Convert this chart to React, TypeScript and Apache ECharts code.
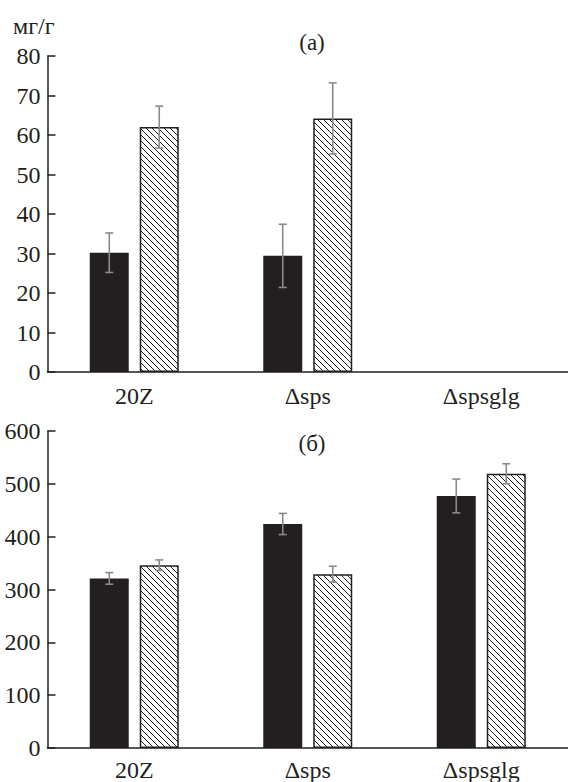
import React, { useEffect, useRef } from "react";
import * as echarts from "echarts";

const categories = ["20Z", "Δsps", "Δspsglg"];

// panel (a), mg/g
const topBlack: (number | null)[] = [30.2, 29.4, null];
const topBlackErr: (number | null)[] = [5.0, 8.0, null];
const topHatched: (number | null)[] = [62.0, 64.2, null];
const topHatchedErr: (number | null)[] = [5.3, 9.0, null];

// panel (б)
const botBlack: number[] = [321, 424, 477];
const botBlackErr: number[] = [11, 20, 32];
const botHatched: number[] = [346, 329, 519];
const botHatchedErr: number[] = [10, 15, 19];

const topTicks = { min: 0, max: 80, interval: 10 };
const botTicks = { min: 0, max: 600, interval: 100 };

const INK = "#231f20";
const ERR = "#8a8a8a";
const FONT = "Liberation Serif";
const FS = 24;
const BAR_W = 39;
const BAR_GAP = 11;

function makeHatch(): HTMLCanvasElement {
  const s = 6;
  const c = document.createElement("canvas");
  c.width = s;
  c.height = s;
  const ctx = c.getContext("2d")!;
  ctx.fillStyle = "#ffffff";
  ctx.fillRect(0, 0, s, s);
  ctx.strokeStyle = INK;
  ctx.lineWidth = 1;
  for (let k = -1; k <= 1; k++) {
    ctx.beginPath();
    ctx.moveTo(k * s, 0);
    ctx.lineTo(k * s + s, s);
    ctx.stroke();
  }
  return c;
}

function errData(vals: (number | null)[], errs: (number | null)[]) {
  const out: number[][] = [];
  vals.forEach((v, i) => {
    const e = errs[i];
    if (v != null && e != null) out.push([i, v - e, v + e]);
  });
  return out;
}

function errSeries(data: number[][], axisIdx: number, offset: number) {
  return {
    type: "custom",
    xAxisIndex: axisIdx,
    yAxisIndex: axisIdx,
    z: 10,
    encode: { x: 0, y: [1, 2] },
    data,
    renderItem: (params: any, api: any) => {
      const x = api.value(0);
      const lo = api.coord([x, api.value(1)]);
      const hi = api.coord([x, api.value(2)]);
      const cx = lo[0] + offset;
      const cap = 4;
      const style = { stroke: ERR, lineWidth: 1.6 };
      return {
        type: "group",
        children: [
          { type: "line", shape: { x1: cx, y1: lo[1], x2: cx, y2: hi[1] }, style },
          { type: "line", shape: { x1: cx - cap, y1: lo[1], x2: cx + cap, y2: lo[1] }, style },
          { type: "line", shape: { x1: cx - cap, y1: hi[1], x2: cx + cap, y2: hi[1] }, style },
        ],
      };
    },
  };
}

export default function App() {
  const ref = useRef<HTMLDivElement>(null);
  useEffect(() => {
    if (!ref.current) return;
    const chart = echarts.init(ref.current, null, { renderer: "svg" });
    const hatch = makeHatch();
    const hatchColor: any = { image: hatch, repeat: "repeat", imageWidth: 6, imageHeight: 6 };
    const off = (BAR_W + BAR_GAP) / 2;

    const axisLine = { show: true, lineStyle: { color: INK, width: 1.5 } };
    const mkX = (gi: number, margin: number) => ({
      type: "category",
      gridIndex: gi,
      data: categories,
      axisLine,
      axisTick: { show: false },
      axisLabel: { color: INK, fontSize: FS, fontFamily: FONT, margin },
      splitLine: { show: false },
    });
    const mkY = (gi: number, t: any) => ({
      type: "value",
      gridIndex: gi,
      min: t.min,
      max: t.max,
      interval: t.interval,
      axisLine,
      axisTick: { show: true, inside: true, length: 8, lineStyle: { color: INK, width: 1.5 } },
      axisLabel: { color: INK, fontSize: FS, fontFamily: FONT, margin: 7 },
      splitLine: { show: false },
    });

    const blackStyle = { color: INK };
    const hatchStyle = { color: hatchColor, borderColor: INK, borderWidth: 1.5 };

    chart.setOption({
      animation: false,
      backgroundColor: "#ffffff",
      textStyle: { fontFamily: FONT },
      grid: [
        { left: 47.5, top: 56, width: 529.5, height: 316 },
        { left: 47.5, top: 431, width: 529.5, height: 318 },
      ],
      xAxis: [mkX(0, 12), mkX(1, 10)],
      yAxis: [mkY(0, topTicks), mkY(1, botTicks)],
      graphic: [
        {
          type: "text",
          left: 13,
          top: 14,
          style: { text: "мг/г", fontSize: FS, fontFamily: FONT, fill: INK },
        },
        {
          type: "text",
          x: 312,
          y: 42,
          style: { text: "(a)", fontSize: 23, fontFamily: FONT, fill: INK, align: "center", verticalAlign: "middle" },
        },
        {
          type: "text",
          x: 312,
          y: 443,
          style: { text: "(б)", fontSize: 23, fontFamily: FONT, fill: INK, align: "center", verticalAlign: "middle" },
        },
      ],
      series: [
        { type: "bar", xAxisIndex: 0, yAxisIndex: 0, data: topBlack, barWidth: BAR_W, barGap: `${(BAR_GAP / BAR_W) * 100}%`, itemStyle: blackStyle },
        { type: "bar", xAxisIndex: 0, yAxisIndex: 0, data: topHatched, barWidth: BAR_W, itemStyle: hatchStyle },
        { type: "bar", xAxisIndex: 1, yAxisIndex: 1, data: botBlack, barWidth: BAR_W, barGap: `${(BAR_GAP / BAR_W) * 100}%`, itemStyle: blackStyle },
        { type: "bar", xAxisIndex: 1, yAxisIndex: 1, data: botHatched, barWidth: BAR_W, itemStyle: hatchStyle },
        errSeries(errData(topBlack, topBlackErr), 0, -off),
        errSeries(errData(topHatched, topHatchedErr), 0, off),
        errSeries(errData(botBlack, botBlackErr), 1, -off),
        errSeries(errData(botHatched, botHatchedErr), 1, off),
      ],
    } as any);
    return () => chart.dispose();
  }, []);
  return (
    <div
      ref={ref}
      style={{ position: "fixed", left: 0, top: 0, width: 568, height: 782, background: "#fff" }}
    />
  );
}
